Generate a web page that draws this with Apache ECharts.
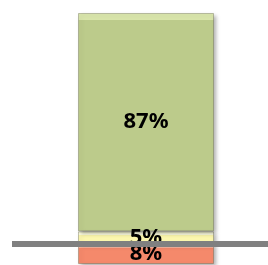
<!DOCTYPE html>
<html>
<head>
<meta charset="utf-8">
<script src="https://cdn.jsdelivr.net/npm/echarts@6/dist/echarts.min.js"></script>
<style>
	html, body { margin: 0; padding: 0; background: #fff; }
	#chart { width: 268px; height: 265px; }
</style>
</head>
<body>
<div id="chart"></div>
<script>
	// data
	const categories = [''];
	const redValues = [8];
	const yellowValues = [5];
	const greenValues = [87];
	const lineLevel = 8;

	function bevel(light, base, edge) {
		return {
			type: 'linear', x: 0, y: 0, x2: 0, y2: 1,
			colorStops: [
				{ offset: 0, color: light },
				{ offset: edge, color: light },
				{ offset: edge + 0.001, color: base },
				{ offset: 1, color: base }
			]
		};
	}
	function barStyle(light, base, edge) {
		return {
			color: bevel(light, base, edge),
			borderColor: 'rgba(90,90,60,0.35)',
			borderWidth: 1,
			shadowBlur: 4,
			shadowOffsetX: 2,
			shadowOffsetY: 2,
			shadowColor: 'rgba(0,0,0,0.3)'
		};
	}
	const labelStyle = {
		show: true,
		position: 'inside',
		formatter: '{c}%',
		color: '#000',
		fontSize: 22,
		fontWeight: 'bold',
		fontFamily: 'Noto Sans'
	};

	let chart = echarts.init(document.getElementById('chart'));
	let option = {
		animation: false,
		grid: [
			{ left: 12, right: 0, top: 13, bottom: 1 },
			{ left: 78, right: 54, top: 13, bottom: 1 }
		],
		xAxis: [
			{ gridIndex: 0, type: 'category', data: categories, show: false },
			{ gridIndex: 1, type: 'category', data: categories, show: false }
		],
		yAxis: [
			{ gridIndex: 0, type: 'value', min: 0, max: 100, show: false },
			{ gridIndex: 1, type: 'value', min: 0, max: 100, show: false }
		],
		series: [
			{ name: 'red', type: 'bar', stack: 'bar', xAxisIndex: 1, yAxisIndex: 1, z: 1,
				barCategoryGap: 0, data: redValues, itemStyle: barStyle('#fbb59e', '#f5896b', 0.2) },
			{ name: 'yellow', type: 'bar', stack: 'bar', xAxisIndex: 1, yAxisIndex: 1, z: 1,
				data: yellowValues, itemStyle: barStyle('#ffffe2', '#fbf6ad', 0.25) },
			{ name: 'green', type: 'bar', stack: 'bar', xAxisIndex: 1, yAxisIndex: 1, z: 1,
				data: greenValues, itemStyle: barStyle('#d9e5ab', '#bccb8b', 0.03) },
			{ name: 'line', type: 'line', xAxisIndex: 0, yAxisIndex: 0, z: 2, data: [null],
				markLine: {
					silent: true, symbol: 'none', label: { show: false },
					lineStyle: { color: '#808080', width: 6, type: 'solid' },
					data: [{ yAxis: lineLevel }]
				}
			},
			// labels drawn on top of the gray line
			{ type: 'bar', stack: 'lbl', xAxisIndex: 1, yAxisIndex: 1, z: 3, barGap: '-100%',
				data: redValues, itemStyle: { color: 'transparent' }, label: labelStyle },
			{ type: 'bar', stack: 'lbl', xAxisIndex: 1, yAxisIndex: 1, z: 3,
				data: yellowValues, itemStyle: { color: 'transparent' }, label: labelStyle },
			{ type: 'bar', stack: 'lbl', xAxisIndex: 1, yAxisIndex: 1, z: 3,
				data: greenValues, itemStyle: { color: 'transparent' }, label: labelStyle }
		]
	};
	chart.setOption(option);
</script>
</body>
</html>
